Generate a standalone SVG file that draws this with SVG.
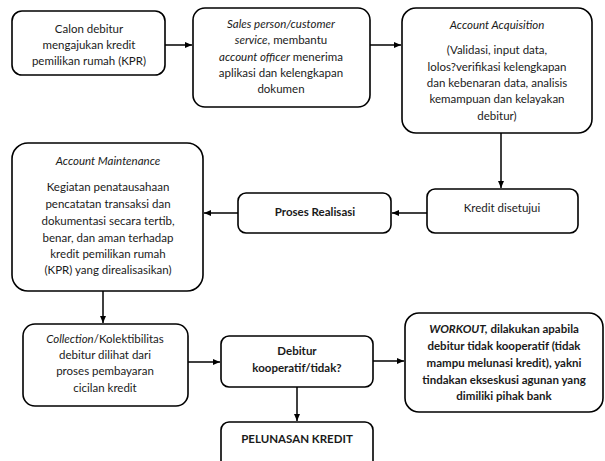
<svg xmlns="http://www.w3.org/2000/svg" width="605" height="461" viewBox="0 0 605 461">
<style>
.box{fill:#fff;stroke:#000;stroke-width:1.6}
text{font-family:Lato,"Open Sans","Liberation Sans",sans-serif;font-size:11.5px;fill:#1a1a1a;text-anchor:middle}
.b{font-weight:bold}
.i{font-style:italic}
.edge{stroke:#000;stroke-width:1.5;fill:none;marker-end:url(#ah)}
</style>
<defs>
<marker id="ah" markerWidth="8" markerHeight="8" refX="7" refY="4" orient="auto" markerUnits="userSpaceOnUse">
<path d="M0,1 L7,4 L0,7 Z" fill="#000"/>
</marker>
</defs>
<rect width="605" height="461" fill="#fff"/>
<g id="connectors">
<line class="edge" x1="165" y1="45" x2="192" y2="45"/>
<line class="edge" x1="370" y1="45" x2="401" y2="45"/>
<line class="edge" x1="501" y1="133" x2="501" y2="188"/>
<line class="edge" x1="427" y1="213" x2="392" y2="213"/>
<line class="edge" x1="238" y1="213" x2="204" y2="213"/>
<line class="edge" x1="103" y1="291" x2="103" y2="323"/>
<line class="edge" x1="188" y1="362" x2="220" y2="362"/>
<line class="edge" x1="373" y1="361" x2="404" y2="361"/>
<line class="edge" x1="297" y1="387" x2="297" y2="421"/>
</g>
<g id="n1">
<rect class="box" x="12" y="11" width="153" height="64" rx="10"/>
<text x="89" y="33">Calon debitur</text>
<text x="89" y="49">mengajukan kredit</text>
<text x="89" y="65">pemilikan rumah (KPR)</text>
</g>
<g id="n2">
<rect class="box" x="193" y="8" width="177" height="99" rx="12"/>
<text x="281" y="28" class="i">Sales person/customer</text>
<text x="281" y="44"><tspan class="i">service</tspan>, membantu</text>
<text x="281" y="61"><tspan class="i">account officer</tspan> menerima</text>
<text x="281" y="77">aplikasi dan kelengkapan</text>
<text x="281" y="93">dokumen</text>
</g>
<g id="n3">
<rect class="box" x="402" y="8" width="190" height="125" rx="14"/>
<text x="497" y="29" class="i">Account Acquisition</text>
<text x="497" y="54">(Validasi, input data,</text>
<text x="497" y="71">lolos?verifikasi kelengkapan</text>
<text x="497" y="87">dan kebenaran data, analisis</text>
<text x="497" y="103">kemampuan dan kelayakan</text>
<text x="497" y="120">debitur)</text>
</g>
<g id="n4">
<rect class="box" x="427" y="189" width="151" height="44" rx="8"/>
<text x="502" y="212">Kredit disetujui</text>
</g>
<g id="n5">
<rect class="box" x="238" y="193" width="153" height="40" rx="8"/>
<text x="315" y="216" class="b">Proses Realisasi</text>
</g>
<g id="n6">
<rect class="box" x="12" y="143" width="191" height="148" rx="16"/>
<text x="108" y="165" class="i">Account Maintenance</text>
<text x="108" y="191">Kegiatan penatausahaan</text>
<text x="108" y="208">pencatatan transaksi dan</text>
<text x="108" y="225">dokumentasi secara tertib,</text>
<text x="108" y="242">benar, dan aman terhadap</text>
<text x="108" y="258">kredit pemilikan rumah</text>
<text x="108" y="274">(KPR) yang direalisasikan)</text>
</g>
<g id="n7">
<rect class="box" x="23" y="324" width="165" height="82" rx="12"/>
<text x="105" y="343"><tspan class="i">Collection</tspan>/Kolektibilitas</text>
<text x="105" y="359">debitur dilihat dari</text>
<text x="105" y="375">proses pembayaran</text>
<text x="105" y="392">cicilan kredit</text>
</g>
<g id="n8">
<rect class="box" x="221" y="336" width="152" height="51" rx="8"/>
<text x="297" y="355" class="b">Debitur</text>
<text x="297" y="372" class="b">kooperatif/tidak?</text>
</g>
<g id="n9">
<rect class="box" x="221" y="422" width="152" height="50" rx="8"/>
<text x="297" y="443" class="b">PELUNASAN KREDIT</text>
</g>
<g id="n10">
<rect class="box" x="405" y="313" width="198" height="99" rx="14"/>
<text x="504" y="333" class="b"><tspan class="i">WORKOUT,</tspan> dilakukan apabila</text>
<text x="504" y="350" class="b">debitur tidak kooperatif (tidak</text>
<text x="504" y="367" class="b">mampu melunasi kredit), yakni</text>
<text x="504" y="384" class="b">tindakan ekseskusi agunan yang</text>
<text x="504" y="400" class="b">dimiliki pihak bank</text>
</g>
</svg>
